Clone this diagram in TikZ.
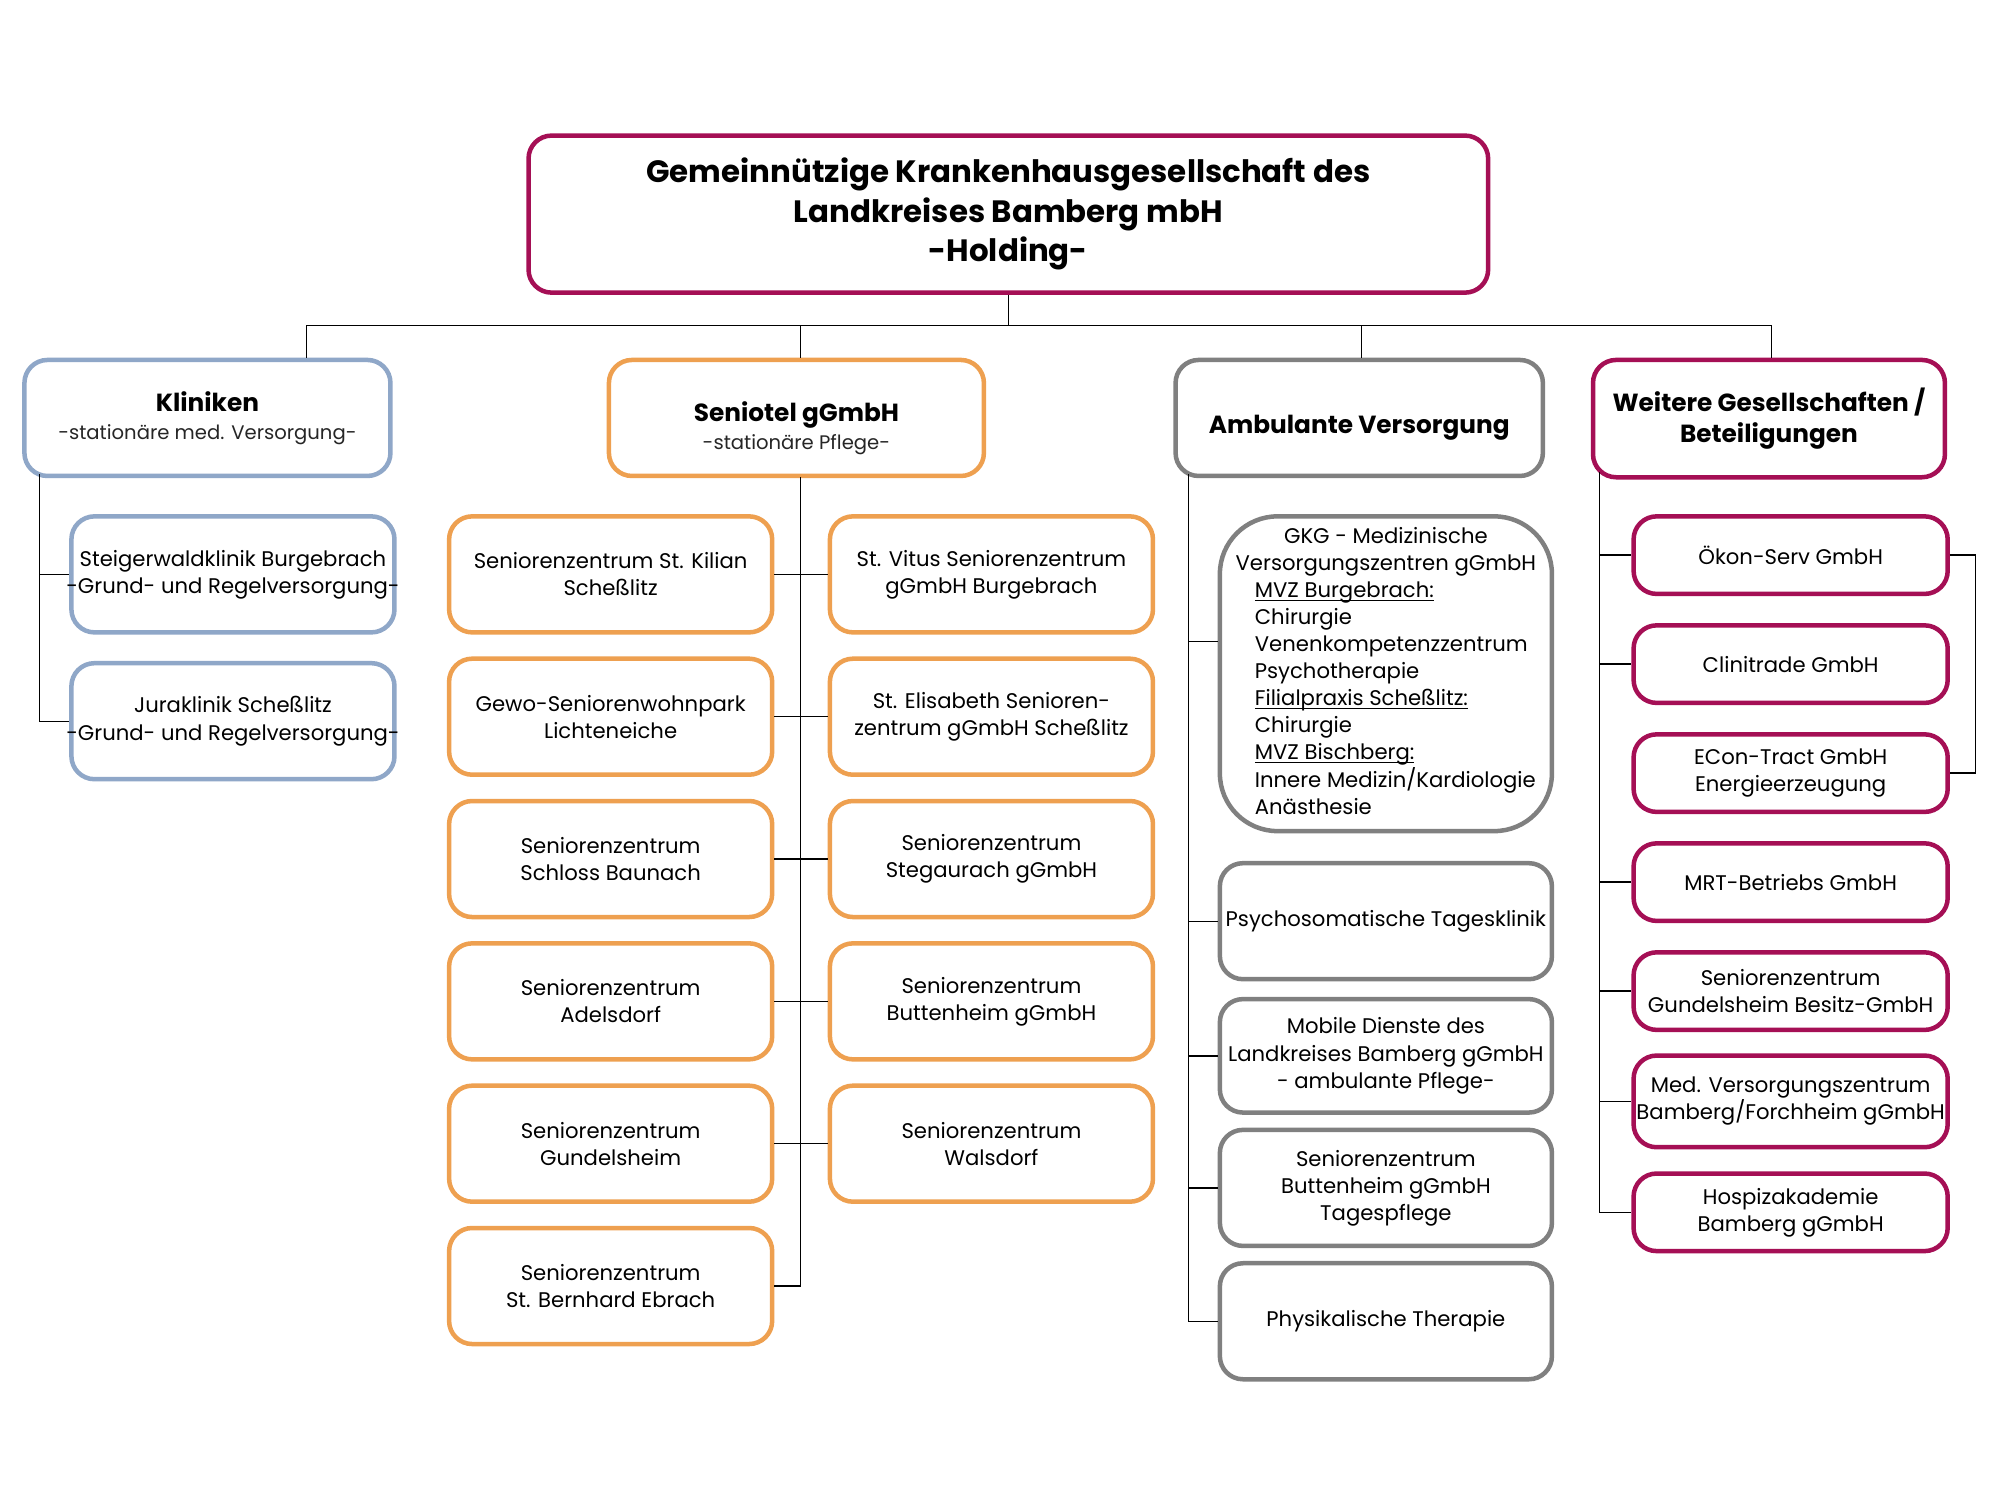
\documentclass[tikz,border=0pt]{standalone}
\usepackage{fontspec}
\setmainfont{Poppins}
\usetikzlibrary{positioning}
\definecolor{gkgred}{RGB}{165,15,85}
\definecolor{senorange}{RGB}{238,160,80}
\definecolor{kliblue}{RGB}{143,167,200}
\definecolor{ambgray}{RGB}{128,128,128}
\newcommand{\subfont}{\fontsize{8.7}{11}\selectfont\mdseries\color{black!85}}
\newcommand{\unterstr}[1]{\underline{\smash{#1}}}
\tikzset{
    orgbox/.style={draw, line width=2pt, rounded corners=3.6mm, fill=white, align=center, inner sep=0pt, font=\fontsize{9.4}{12}\selectfont},
    holding/.style={orgbox, draw=gkgred, minimum width=149.7mm, minimum height=24.5mm, font=\fontsize{13.7}{17.6}\selectfont\bfseries},
    katbox/.style={orgbox, minimum height=18.1mm, font=\fontsize{11}{14}\selectfont\bfseries},
    klibox/.style={orgbox, draw=kliblue, minimum width=50.4mm, minimum height=18.1mm},
    senbox/.style={orgbox, draw=senorange, minimum width=50.4mm, minimum height=18.1mm},
    ambbox/.style={orgbox, draw=ambgray, minimum width=51.8mm, minimum height=18.1mm},
    weibox/.style={orgbox, draw=gkgred, minimum width=49mm, minimum height=12.1mm},
    conn/.style={draw, line width=0.6pt}
}

\begin{document}
\begin{tikzpicture}[x=0.2mm, y=-0.2mm]
    \path [fill=white] (0,0) rectangle (1560,1170);
    \useasboundingbox (0,0) rectangle (1560,1170);

    \node (hold) [holding] at (786.5,167) {Gemeinnützige Krankenhausgesellschaft des\\ Landkreises Bamberg mbH\\ -Holding-};

    \node (kli) [katbox, draw=kliblue, minimum width=57.1mm] at (161.8,326) {Kliniken\\[-1.5pt] {\subfont -stationäre med. Versorgung-}};
    \node (sen) [katbox, draw=senorange, minimum width=58.5mm] at (621.2,326) {\rule{0pt}{18pt}Seniotel gGmbH\\[-1.5pt] {\subfont -stationäre Pflege-}};
    \node (amb) [katbox, draw=ambgray, minimum width=57.3mm] at (1060.2,326) {\rule{0pt}{17pt}Ambulante Versorgung};
    \node (wei) [katbox, draw=gkgred, minimum width=54.9mm, minimum height=18.3mm] at (1379.8,326.5) {Weitere Gesellschaften /\\ Beteiligungen};

    \node (stw) [klibox] at (181.7,448) {Steigerwaldklinik Burgebrach\\ \makebox[48mm][c]{-Grund- und Regelversorgung-}};
    \node (jura) [klibox, below=4.1mm of stw] {Juraklinik Scheßlitz\\ \makebox[48mm][c]{-Grund- und Regelversorgung-}};

    \node (kil) [senbox] at (476.3,448) {Seniorenzentrum St. Kilian\\ Scheßlitz};
    \node (gewo) [senbox, below=3.4mm of kil] {Gewo-Seniorenwohnpark\\ Lichteneiche};
    \node (bau) [senbox, below=3.4mm of gewo] {Seniorenzentrum\\ Schloss Baunach};
    \node (adl) [senbox, below=3.4mm of bau] {Seniorenzentrum\\ Adelsdorf};
    \node (gun) [senbox, below=3.4mm of adl] {Seniorenzentrum\\ Gundelsheim};
    \node (ebr) [senbox, below=3.4mm of gun] {Seniorenzentrum\\ St. Bernhard Ebrach};
    \node (vit) [senbox, right=8.3mm of kil] {St. Vitus Seniorenzentrum\\ gGmbH Burgebrach};
    \node (eli) [senbox, right=8.3mm of gewo] {St. Elisabeth Senioren-\\ zentrum gGmbH Scheßlitz};
    \node (steg) [senbox, right=8.3mm of bau] {Seniorenzentrum\\ Stegaurach gGmbH};
    \node (butt) [senbox, right=8.3mm of adl] {Seniorenzentrum\\ Buttenheim gGmbH};
    \node (wal) [senbox, right=8.3mm of gun] {Seniorenzentrum\\ Walsdorf};

    \node (gkg) [ambbox, rounded corners=9mm, minimum height=49.1mm] at (1081,525.5) {\begin{tabular}{@{}l@{}}
        \multicolumn{1}{@{}c@{}}{GKG - Medizinische}\\
        \multicolumn{1}{@{}c@{}}{Versorgungszentren gGmbH}\\
        \hspace{3mm}\unterstr{MVZ Burgebrach:}\\
        \hspace{3mm}Chirurgie\\
        \hspace{3mm}Venenkompetenzzentrum\\
        \hspace{3mm}Psychotherapie\\
        \hspace{3mm}\unterstr{Filialpraxis Scheßlitz:}\\
        \hspace{3mm}Chirurgie\\
        \hspace{3mm}\unterstr{MVZ Bischberg:}\\
        \hspace{3mm}Innere Medizin/Kardiologie\\
        \hspace{3mm}Anästhesie
    \end{tabular}};
    \node (psy) [ambbox, below=4.3mm of gkg] {Psychosomatische Tagesklinik};
    \node (mob) [ambbox, minimum height=17.7mm, below=2.4mm of psy] {Mobile Dienste des\\ Landkreises Bamberg gGmbH\\ - ambulante Pflege-};
    \node (tag) [ambbox, below=2mm of mob] {Seniorenzentrum\\ Buttenheim gGmbH\\ Tagespflege};
    \node (phy) [ambbox, below=2mm of tag] {Physikalische Therapie};

    \node (oek) [weibox] at (1396.7,433) {Ökon-Serv GmbH};
    \node (cli) [weibox, below=4.2mm of oek] {Clinitrade GmbH};
    \node (eco) [weibox, below=4.2mm of cli] {ECon-Tract GmbH\\ Energieerzeugung};
    \node (mrt) [weibox, below=4.2mm of eco] {MRT-Betriebs GmbH};
    \node (sgb) [weibox, below=4.2mm of mrt] {Seniorenzentrum\\ Gundelsheim Besitz-GmbH};
    \node (mvz) [weibox, minimum height=14.3mm, below=3.3mm of sgb] {Med. Versorgungszentrum\\ Bamberg/Forchheim gGmbH};
    \node (hos) [weibox, below=3.4mm of mvz] {Hospizakademie\\ Bamberg gGmbH};

    \coordinate (bus) at (786.5,254);
    \coordinate (bk) at (238.9,254);
    \coordinate (bs) at (624.2,254);
    \coordinate (ba) at (1062.2,254);
    \coordinate (bw) at (1381.8,254);
    \coordinate (tk) at (30.9,370);
    \coordinate (ts) at (624.2,372);
    \coordinate (ta) at (926.8,370);
    \coordinate (tw) at (1247.4,368);
    \coordinate (gkgin) at ([yshift=5mm]gkg.west);

    \path [conn] (hold.south) -- (bus);
    \path [conn] (bk) -- (bw);
    \path [conn] (bk) -- (bk |- kli.north);
    \path [conn] (bs) -- (bs |- sen.north);
    \path [conn] (ba) -- (ba |- amb.north);
    \path [conn] (bw) -- (bw |- wei.north);

    \path [conn] (tk) |- (jura.west);
    \path [conn] (tk |- stw.west) -- (stw.west);

    \path [conn] (ts) |- (ebr.east);
    \path [conn] (kil.east) -- (vit.west);
    \path [conn] (gewo.east) -- (eli.west);
    \path [conn] (bau.east) -- (steg.west);
    \path [conn] (adl.east) -- (butt.west);
    \path [conn] (gun.east) -- (gun.east -| wal.west);

    \path [conn] (ta) |- (phy.west);
    \path [conn] (ta |- gkgin) -- (gkgin);
    \path [conn] (ta |- psy.west) -- (psy.west);
    \path [conn] (ta |- mob.west) -- (mob.west);
    \path [conn] (ta |- tag.west) -- (tag.west);

    \path [conn] (tw) |- (hos.west);
    \path [conn] (tw |- oek.west) -- (oek.west);
    \path [conn] (tw |- cli.west) -- (cli.west);
    \path [conn] (tw |- mrt.west) -- (mrt.west);
    \path [conn] (tw |- sgb.west) -- (sgb.west);
    \path [conn] (tw |- mvz.west) -- (mvz.west);
    \path [conn] (oek.east) -- ++(20,0) |- (eco.east);
\end{tikzpicture}
\end{document}
